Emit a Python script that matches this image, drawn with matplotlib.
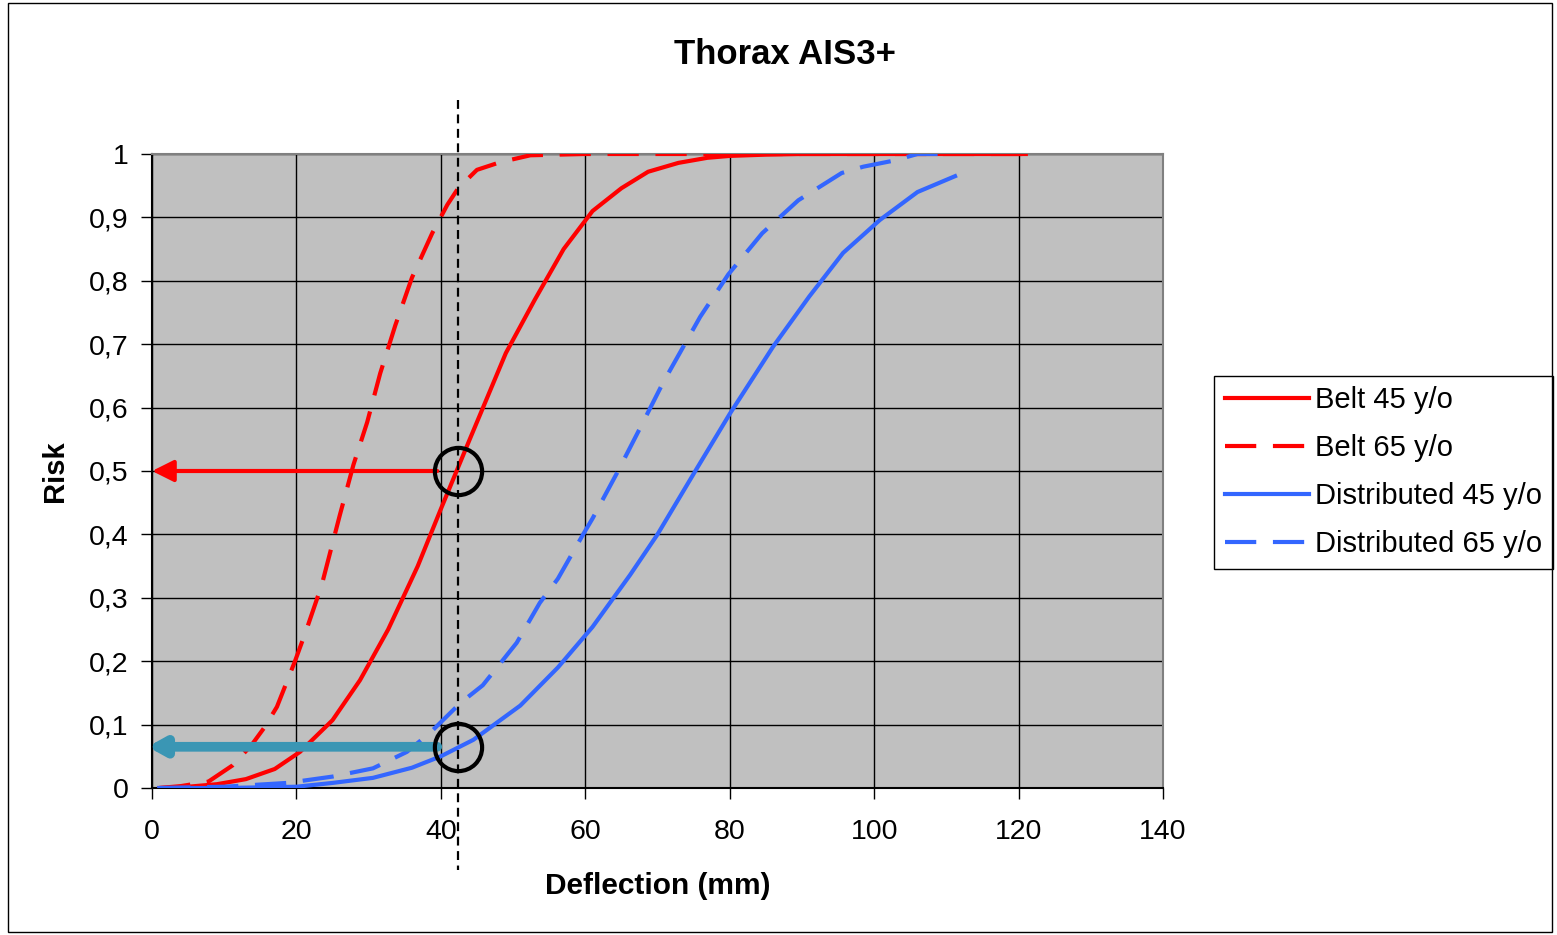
import numpy as np
import matplotlib.pyplot as plt
from matplotlib.patches import Rectangle
from matplotlib.ticker import FuncFormatter

plt.rcParams['font.family'] = ['Liberation Sans', 'DejaVu Sans']

# curves (deflection in mm, risk 0-1)
belt45_x = [1, 5, 9, 13, 17, 20.5, 25, 28.8, 32.7, 36.8, 40, 44, 49, 53, 57, 61, 65, 68.7, 72.9, 76.9, 80, 85, 90, 100, 110, 121]
belt45_y = [0, 0.002, 0.006, 0.014, 0.03, 0.057, 0.107, 0.17, 0.25, 0.35, 0.44, 0.55, 0.686, 0.77, 0.85, 0.91, 0.946, 0.972, 0.986, 0.994, 0.997, 0.999, 1, 1, 1, 1]

belt65_x = [1, 4, 7.8, 11.2, 13.8, 15.6, 17.3, 19.8, 21.4, 23.5, 26, 27.9, 29.8, 31.6, 33.7, 36, 38.8, 40.9, 42.4, 45, 48.2, 52.4, 60, 70, 80, 90, 100, 110, 121]
belt65_y = [0, 0.003, 0.01, 0.036, 0.068, 0.096, 0.128, 0.2, 0.25, 0.32, 0.43, 0.51, 0.577, 0.654, 0.73, 0.805, 0.875, 0.92, 0.946, 0.975, 0.987, 0.998, 1, 1, 1, 1, 1, 1, 1]

dist45_x = [1, 10, 20, 25, 30.6, 36, 40, 44.5, 51, 56.2, 61, 66.2, 70, 75.5, 80, 86, 91, 95.7, 100.8, 106, 111.2]
dist45_y = [0, 0, 0.002, 0.008, 0.016, 0.032, 0.05, 0.076, 0.13, 0.19, 0.254, 0.336, 0.40, 0.505, 0.59, 0.696, 0.775, 0.844, 0.896, 0.94, 0.965]

dist65_x = [1, 10, 18.7, 25, 30.6, 35.3, 38.5, 42.7, 45.8, 50.5, 53.7, 56.2, 59.7, 61, 64.4, 67.6, 70.8, 75.9, 79.8, 84.5, 89.5, 95.5, 98.5, 102.9, 106, 111]
dist65_y = [0, 0.002, 0.008, 0.018, 0.031, 0.057, 0.087, 0.134, 0.162, 0.229, 0.292, 0.33, 0.40, 0.425, 0.497, 0.568, 0.64, 0.743, 0.81, 0.875, 0.927, 0.97, 0.98, 0.99, 1.0, 1.0]

labels = ["Belt 45 y/o", "Belt 65 y/o", "Distributed 45 y/o", "Distributed 65 y/o"]

# reading lines
x_read = 42.4
risk_belt = 0.5
risk_dist = 0.065

fig = plt.figure(figsize=(15.57, 9.35), dpi=100)
ax = fig.add_axes([152/1557, 1-788/935, (1163-152)/1557, (788-154)/935])
ax.set_facecolor('#C0C0C0')

long_dash = (0, (7.5, 4))
ax.plot(belt45_x, belt45_y, color='#FF0000', lw=3, label=labels[0], zorder=3)
ax.plot(belt65_x, belt65_y, color='#FF0000', lw=3, ls=long_dash, label=labels[1], zorder=3)
ax.plot(dist45_x, dist45_y, color='#3366FF', lw=3, label=labels[2], zorder=3)
ax.plot(dist65_x, dist65_y, color='#3366FF', lw=3, ls=long_dash, label=labels[3], zorder=3)

ax.set_xlim(0, 140)
ax.set_ylim(0, 1)
ax.set_xticks(np.arange(0, 141, 20))
ax.set_yticks(np.arange(0, 1.01, 0.1))
ax.yaxis.set_major_formatter(FuncFormatter(lambda v, p: ('%g' % round(v, 1)).replace('.', ',')))
ax.grid(True, color='black', lw=1)
ax.set_axisbelow(True)
ax.tick_params(axis='both', direction='out', length=8, width=1, labelsize=20.5, color='black')
ax.tick_params(axis='x', pad=14)
ax.tick_params(axis='y', pad=9)
for s in ax.spines.values():
    s.set_color('#808080')
    s.set_linewidth(1.5)
ax.spines['left'].set_color('black')
ax.spines['bottom'].set_color('black')

ax.set_xlabel("Deflection (mm)", fontsize=21.5, fontweight='bold', labelpad=20)
ax.set_ylabel("Risk", fontsize=21, fontweight='bold', labelpad=14)
fig.text(0.504, 1-55/935, "Thorax AIS3+", fontsize=25, fontweight='bold', ha='center', va='center')

# arrows back to the risk axis
ax.annotate('', xy=(0, risk_belt), xytext=(39.5, risk_belt),
            arrowprops=dict(arrowstyle='-|>,head_length=1.3,head_width=0.65', color='#FF0000', lw=3, shrinkA=0, shrinkB=0),
            zorder=4)
ax.annotate('', xy=(-0.6, risk_dist), xytext=(39.5, risk_dist),
            arrowprops=dict(arrowstyle='-|>,head_length=0.9,head_width=0.5', color='#3A96B4', lw=7, shrinkA=0, shrinkB=0),
            zorder=4, annotation_clip=False)

# circles and vertical reading line
ax.plot([x_read, x_read], [risk_belt, risk_dist], ls='none', marker='o', ms=34, mfc='none', mec='black', mew=3, zorder=5)
ax.plot([x_read, x_read], [1.085, -0.13], color='black', lw=1.6, ls=(0, (4, 2.5)), clip_on=False, zorder=5)

ax.legend(loc='upper left', bbox_to_anchor=(1214/1557, 1-376/935), bbox_transform=fig.transFigure,
          fontsize=21, frameon=True, fancybox=False, edgecolor='black', framealpha=1,
          handlelength=2.9, handletextpad=0.2, labelspacing=0.68, borderpad=0.36, borderaxespad=0)

fig.add_artist(Rectangle((8/1557, 3/935), 1544/1557, 929/935, transform=fig.transFigure,
                         fill=False, edgecolor='black', lw=1))

plt.savefig('out.png', dpi=100)
